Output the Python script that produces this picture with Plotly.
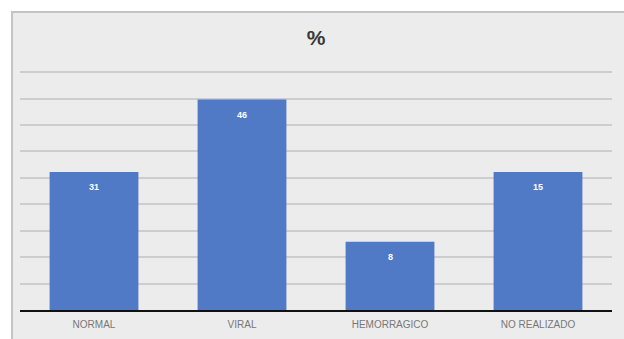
import plotly.graph_objects as go

categories = ["NORMAL", "VIRAL", "HEMORRAGICO", "NO REALIZADO"]
bar_heights = [26.1, 39.8, 12.9, 26.1]   # heights as drawn in the picture (gridline step = 5)
data_labels = ["31", "46", "8", "15"]      # labels printed on the bars
y_ticks = [0, 5, 10, 15, 20, 25, 30, 35, 40, 45]

W, H = 624, 339
L, R, T, B = 20, 12, 70, 29
pw = W - L - R
ph = H - T - B

fig = go.Figure(go.Bar(
    x=categories, y=bar_heights,
    marker=dict(color="#5079c6", line=dict(width=0)),
    width=0.6, hoverinfo="x+y",
))

for c, h, lab in zip(categories, bar_heights, data_labels):
    fig.add_annotation(x=c, y=h, text=f"<b>{lab}</b>", showarrow=False,
                       yshift=-15, font=dict(color="white", size=9, family="Liberation Sans"))

fig.add_shape(type="rect", xref="paper", yref="paper",
              x0=(12 - L) / pw, x1=(W + 2 - L) / pw,
              y0=(T + ph - (H + 2)) / ph, y1=(T + ph - 12) / ph,
              fillcolor="#ececec", line=dict(color="#c4c4c4", width=2), layer="below")

fig.update_layout(
    width=W, height=H,
    margin=dict(l=L, r=R, t=T, b=B, autoexpand=False),
    paper_bgcolor="white", plot_bgcolor="rgba(0,0,0,0)",
    title=dict(text="<b>%</b>", x=(316 - 0) / W, xanchor="center", y=1 - 38 / H, yanchor="middle",
               font=dict(size=21, color="#383838", family="Liberation Sans")),
    showlegend=False,
    bargap=0.4,
)
fig.update_xaxes(showline=True, linecolor="#111111", linewidth=2,
                 tickfont=dict(size=10, color="#777777", family="Liberation Sans"),
                 ticks="", showgrid=False, ticklabelstandoff=4, automargin=False)
fig.update_yaxes(range=[0, 45.4], tickvals=y_ticks, showticklabels=False,
                 showgrid=True, gridcolor="#cdcdcd", gridwidth=1.5, zeroline=False)

fig.write_html("out.html")
